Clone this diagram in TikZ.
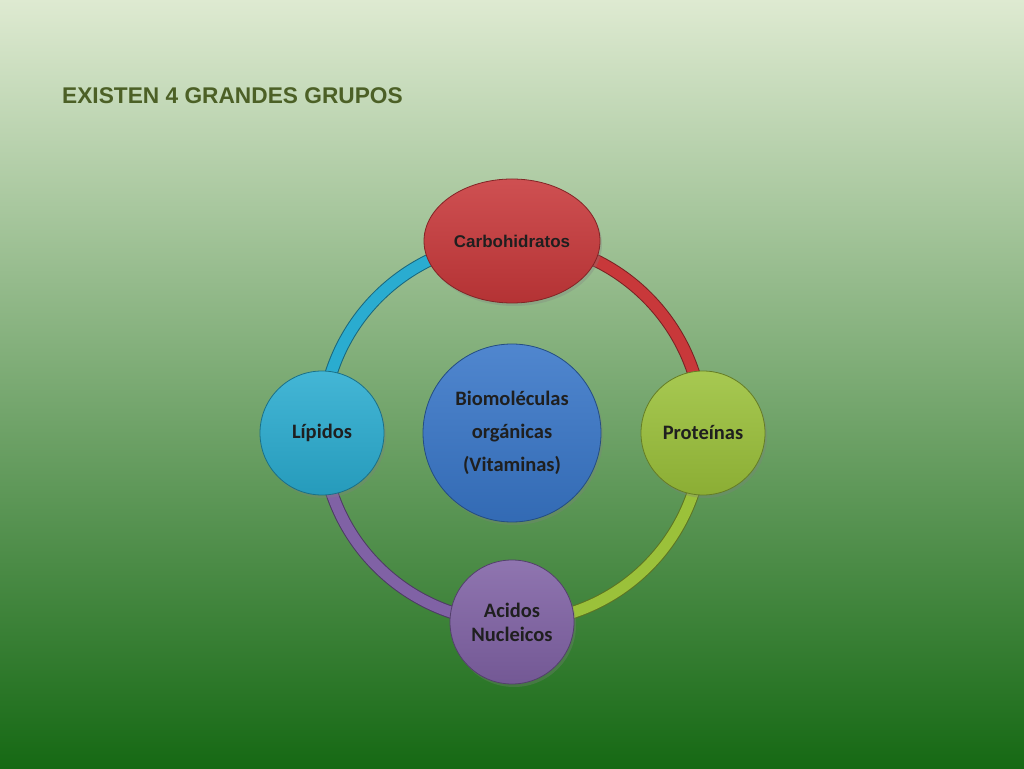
\documentclass[tikz,border=0pt]{standalone}
\usepackage{fontspec}
\usetikzlibrary{shapes.geometric,shadows}
\newfontfamily\arialfont{Liberation Sans}
\newfontfamily\calfont{Carlito}
\definecolor{bgtop}{RGB}{222,234,209}
\definecolor{bgmid}{RGB}{162,190,114}
\definecolor{bgbot}{RGB}{22,105,20}
\definecolor{titlegreen}{RGB}{76,96,38}
\definecolor{carbred}{RGB}{200,56,58}
\definecolor{protgreen}{RGB}{155,193,58}
\definecolor{acidpurple}{RGB}{128,98,165}
\definecolor{lipcyan}{RGB}{42,172,208}
\definecolor{bioblue}{RGB}{56,118,200}
\pgfdeclarelayer{bg}
\pgfdeclarelayer{ring}
\pgfsetlayers{bg,ring,main}
\tikzset{
  ball/.style={circle, inner sep=0pt, minimum size=124pt, draw=#1!65!black, line width=0.8pt,
    top color=#1!88!white, bottom color=#1!90!black, text=black!88, align=center,
    font=\calfont\bfseries\fontsize{20.5}{24}\selectfont,
    drop shadow={opacity=0.3, shadow xshift=2pt, shadow yshift=-3pt}},
  ring/.style={line width=1pt, draw=#1!60!black, double=#1, double distance=11pt}
}
\begin{document}
\begin{tikzpicture}[x=1pt,y=1pt]
\useasboundingbox (0,0) rectangle (1024,768);
\begin{pgfonlayer}{bg}
\shade[top color=bgtop, middle color=bgmid, bottom color=bgbot] (0,0) rectangle (1024,768);
\end{pgfonlayer}
\node [anchor=west, inner sep=0pt, text=titlegreen, font=\arialfont\bfseries\fontsize{22.7}{27}\selectfont] (title) at (62,672) {EXISTEN 4 GRANDES GRUPOS};
\node [ball=bioblue, minimum size=178pt, font=\calfont\bfseries\fontsize{20.5}{33}\selectfont] (bio) at (512,335) {Biomoléculas\\orgánicas\\(Vitaminas)};
\node [ball=carbred, ellipse, minimum width=176pt, minimum height=124pt, font=\arialfont\bfseries\fontsize{17}{20}\selectfont] (carb) at (512,527) {Carbohidratos};
\node [ball=protgreen] (prot) at (703,335) {Proteínas};
\node [ball=acidpurple] (acid) at (512,146) {Acidos\\Nucleicos};
\node [ball=lipcyan] (lip) at (322,335) {Lípidos};
\begin{pgfonlayer}{ring}
\foreach \a/\b/\c in {carb/prot/carbred, prot/acid/protgreen, acid/lip/acidpurple, lip/carb/lipcyan}
  \draw [ring=\c] (\a.center) to [bend left=45] (\b.center);
\end{pgfonlayer}
\end{tikzpicture}
\end{document}
